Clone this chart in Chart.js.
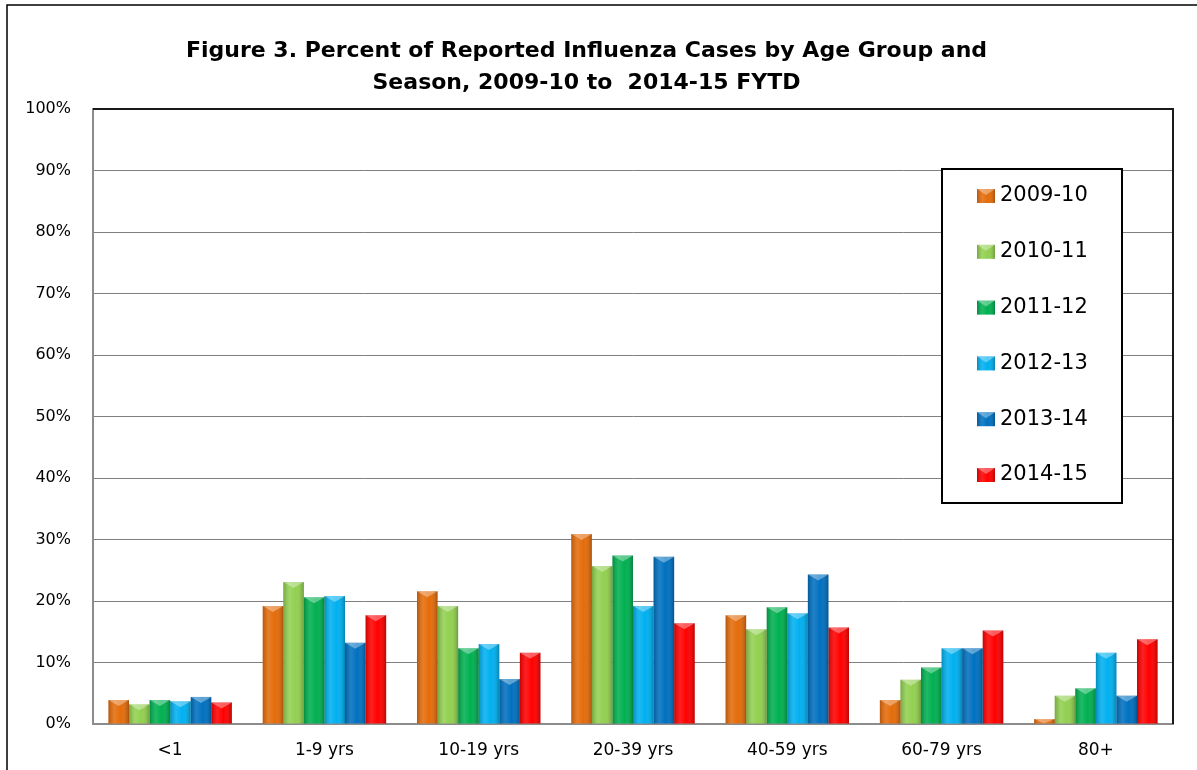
<!DOCTYPE html>
<html>
<head>
<meta charset="utf-8">
<title>Figure 3 - Influenza Cases by Age Group</title>
<script src="https://cdn.jsdelivr.net/npm/chart.js@4"></script>
<style>
    html, body { margin: 0; padding: 0; background: #fff; }
    #wrap { width: 1197px; height: 770px; }
</style>
</head>
<body>
<div id="wrap"><canvas id="fluChart" width="1197" height="770"></canvas></div>
<script>
// -------------------------
// Data (percent of reported cases)
// -------------------------
const ageGroups = ['<1', '1-9 yrs', '10-19 yrs', '20-39 yrs', '40-59 yrs', '60-79 yrs', '80+'];
const seasons = ['2009-10', '2010-11', '2011-12', '2012-13', '2013-14', '2014-15'];

const season0910 = [3.9, 19.2, 21.6, 30.9, 17.7, 3.9, 0.8];
const season1011 = [3.2, 23.1, 19.2, 25.7, 15.4, 7.2, 4.6];
const season1112 = [3.9, 20.6, 12.3, 27.4, 19.0, 9.2, 5.8];
const season1213 = [3.7, 20.8, 13.0, 19.2, 18.0, 12.3, 11.6];
const season1314 = [4.4, 13.2, 7.3, 27.2, 24.3, 12.3, 4.6];
const season1415 = [3.5, 17.7, 11.6, 16.4, 15.7, 15.2, 13.8];

const yTicks = [0, 10, 20, 30, 40, 50, 60, 70, 80, 90, 100];

const seriesValues = [season0910, season1011, season1112, season1213, season1314, season1415];
const seriesColors = ['#E46C0A', '#92D050', '#00B050', '#00B0F0', '#0070C0', '#FF0000'];

const FONT = "'DejaVu Sans', sans-serif";

// shading to give the bars a bit of the bevelled look
function shadeBar(ctx, x, y, w, h) {
    const g = ctx.createLinearGradient(x, 0, x + w, 0);
    g.addColorStop(0, 'rgba(0,0,0,0.2)');
    g.addColorStop(0.3, 'rgba(255,255,255,0.12)');
    g.addColorStop(0.6, 'rgba(255,255,255,0.0)');
    g.addColorStop(1, 'rgba(0,0,0,0.25)');
    ctx.fillStyle = g;
    ctx.fillRect(x, y, w, h);
    // light chevron at the top
    const cap = Math.min(6, h);
    ctx.fillStyle = 'rgba(255,255,255,0.35)';
    ctx.beginPath();
    ctx.moveTo(x, y);
    ctx.lineTo(x + w, y);
    ctx.lineTo(x + w / 2, y + cap);
    ctx.closePath();
    ctx.fill();
}

// -------------------------
// Plugins: frame, bar shading, legend box
// -------------------------
const framePlugin = {
    id: 'frame',
    beforeDraw(chart) {
        const c = chart.ctx;
        c.save();
        c.fillStyle = '#fff';
        c.fillRect(0, 0, chart.width, chart.height);
        c.strokeStyle = '#000';
        c.lineWidth = 1.5;
        c.beginPath();
        c.moveTo(7, chart.height + 5);
        c.lineTo(7, 5);
        c.lineTo(chart.width + 5, 5);
        c.stroke();
        c.restore();
    },
    afterDatasetsDraw(chart) {
        const c = chart.ctx;
        const a = chart.chartArea;
        c.save();
        chart.data.datasets.forEach((ds, i) => {
            chart.getDatasetMeta(i).data.forEach(bar => {
                const p = bar.getProps(['x', 'y', 'base', 'width'], true);
                shadeBar(c, p.x - p.width / 2, p.y, p.width, p.base - p.y);
            });
        });
        // dark top and right border of plot area
        c.strokeStyle = '#1a1a1a';
        c.lineWidth = 2;
        c.beginPath();
        c.moveTo(a.left, a.top);
        c.lineTo(a.right, a.top);
        c.lineTo(a.right, a.bottom);
        c.stroke();
        c.restore();
    }
};

const legendBoxPlugin = {
    id: 'legendBox',
    afterDraw(chart) {
        const c = chart.ctx;
        const box = { left: 942, top: 169, right: 1122, bottom: 503 };
        c.save();
        c.fillStyle = '#fff';
        c.fillRect(box.left, box.top, box.right - box.left, box.bottom - box.top);
        c.strokeStyle = '#000';
        c.lineWidth = 2;
        c.strokeRect(box.left, box.top, box.right - box.left, box.bottom - box.top);
        c.font = '21px ' + FONT;
        c.textBaseline = 'middle';
        chart.data.datasets.forEach((ds, i) => {
            const cy = 196 + i * 55.8;
            c.fillStyle = ds.backgroundColor;
            c.fillRect(977, cy - 7, 18, 14);
            shadeBar(c, 977, cy - 7, 18, 14);
            c.fillStyle = '#000';
            c.fillText(ds.label, 1000, cy);
        });
        c.restore();
    }
};

// -------------------------
// Chart
// -------------------------
const ctx = document.getElementById('fluChart').getContext('2d');

new Chart(ctx, {
    type: 'bar',
    data: {
        labels: ageGroups,
        datasets: seasons.map((s, i) => ({
            label: s,
            data: seriesValues[i],
            backgroundColor: seriesColors[i],
            borderWidth: 0,
            categoryPercentage: 0.8,
            barPercentage: 1.0
        }))
    },
    options: {
        responsive: false,
        animation: false,
        layout: { padding: { left: 0, right: 24, top: 0, bottom: 0 } },
        plugins: {
            legend: { display: false },
            tooltip: { enabled: false },
            title: {
                display: true,
                text: ['Figure 3. Percent of Reported Influenza Cases by Age Group and',
                       'Season, 2009-10 to  2014-15 FYTD'],
                color: '#000',
                font: { family: FONT, size: 22, weight: 'bold', lineHeight: 1.455 },
                padding: { top: 35, bottom: 10 }
            }
        },
        scales: {
            x: {
                grid: { display: false, drawTicks: false },
                border: { color: '#8c8c8c', width: 2 },
                ticks: {
                    color: '#000',
                    font: { family: FONT, size: 17 },
                    padding: 16,
                    maxRotation: 0
                },
                afterFit(scale) { scale.height = 46; }
            },
            y: {
                min: 0,
                max: 100,
                afterBuildTicks(scale) {
                    scale.ticks = yTicks.map(v => ({ value: v }));
                },
                grid: { color: '#7f7f7f', lineWidth: 1, drawTicks: false },
                border: { color: '#8c8c8c', width: 2 },
                ticks: {
                    color: '#000',
                    font: { family: FONT, size: 16 },
                    padding: 22,
                    callback: v => v + '%'
                },
                afterFit(scale) { scale.width = 93; }
            }
        }
    },
    plugins: [framePlugin, legendBoxPlugin]
});
</script>
</body>
</html>
